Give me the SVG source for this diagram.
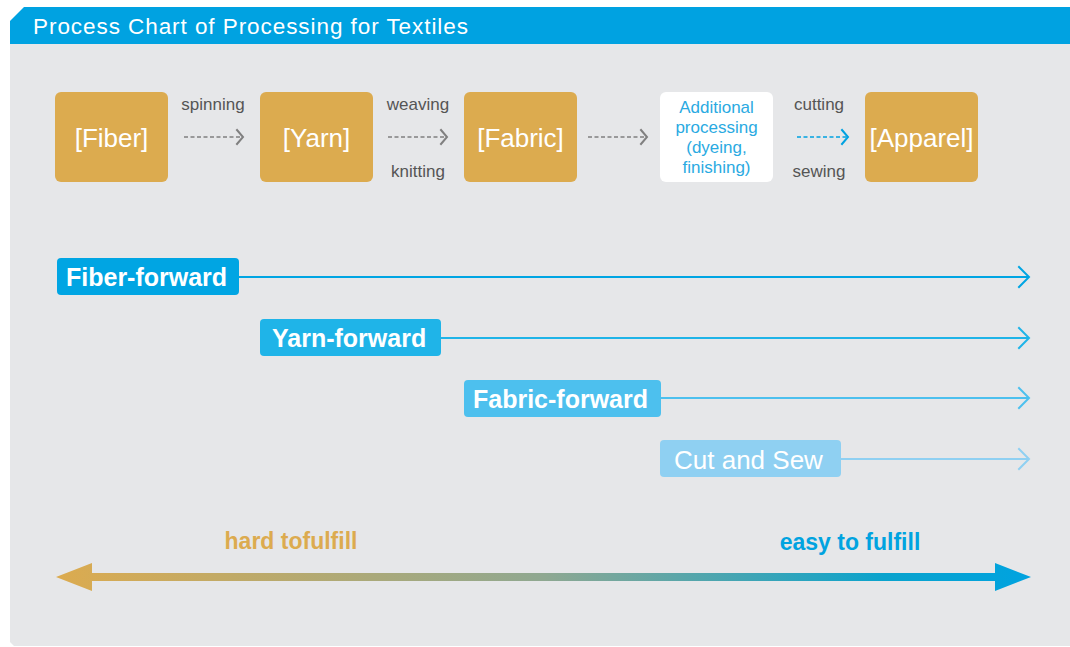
<svg xmlns="http://www.w3.org/2000/svg" width="1070" height="647" viewBox="0 0 1070 647">
  <defs>
    <style>
      .node rect.stage { fill: #dcab4f; }
      .stage-text { font-family: "Liberation Sans", Arial, sans-serif; font-size: 26px; fill: #ffffff; text-anchor: middle; }
      .lbl { font-family: "Liberation Sans", Arial, sans-serif; font-size: 17px; fill: #555555; text-anchor: middle; }
      .add-text { font-family: "Liberation Sans", Arial, sans-serif; font-size: 17px; fill: #2aaae2; text-anchor: middle; }
      .tag-text { font-family: "Liberation Sans", Arial, sans-serif; font-size: 25px; font-weight: bold; fill: #ffffff; }
      .dash { stroke: #808080; stroke-width: 1.6; stroke-dasharray: 4 2.5; fill: none; }
      .chev { fill: none; stroke-width: 2; stroke-linecap: square; }
      .scale-text { font-family: "Liberation Sans", Arial, sans-serif; font-size: 23px; font-weight: bold; text-anchor: middle; }
    </style>
    <linearGradient id="grad" x1="56" y1="0" x2="1031" y2="0" gradientUnits="userSpaceOnUse">
      <stop offset="0" stop-color="#dcab4f"/>
      <stop offset="0.5" stop-color="#8fa891"/>
      <stop offset="0.85" stop-color="#0aa3cd"/>
      <stop offset="1" stop-color="#00a3e0"/>
    </linearGradient>
  </defs>

  <rect width="1070" height="647" fill="#ffffff"/>
  <g id="frame">
    <path d="M10,44 H1070 V646 H14 L10,642 Z" fill="#e6e7e9"/>
    <path d="M24,7 H1070 V44 H10 V21 Z" fill="#00a2e1"/>
    <text x="33" y="34" font-family="Liberation Sans, Arial, sans-serif" font-size="22.5" fill="#ffffff" textLength="435" lengthAdjust="spacing">Process Chart of Processing for Textiles</text>
  </g>

  <g id="node-fiber" class="node">
    <rect class="stage" x="55" y="92" width="113" height="90" rx="6"/>
    <text class="stage-text" x="111.5" y="147">[Fiber]</text>
  </g>
  <g id="node-yarn" class="node">
    <rect class="stage" x="260" y="92" width="113" height="90" rx="6"/>
    <text class="stage-text" x="316.5" y="147">[Yarn]</text>
  </g>
  <g id="node-fabric" class="node">
    <rect class="stage" x="464" y="92" width="113" height="90" rx="6"/>
    <text class="stage-text" x="520.5" y="147">[Fabric]</text>
  </g>
  <g id="node-additional" class="node">
    <rect x="660" y="92" width="113" height="90" rx="6" fill="#ffffff"/>
    <text class="add-text" x="716.5" y="113">Additional</text>
    <text class="add-text" x="716.5" y="133">processing</text>
    <text class="add-text" x="716.5" y="153">(dyeing,</text>
    <text class="add-text" x="716.5" y="173">finishing)</text>
  </g>
  <g id="node-apparel" class="node">
    <rect class="stage" x="865" y="92" width="113" height="90" rx="6"/>
    <text class="stage-text" x="921.5" y="147">[Apparel]</text>
  </g>

  <g id="connectors">
    <line class="dash" x1="184" y1="137" x2="243" y2="137"/>
    <polyline class="chev" stroke="#808080" points="237,130 243,137 237,144"/>
    <line class="dash" x1="388" y1="137" x2="447" y2="137"/>
    <polyline class="chev" stroke="#808080" points="441,130 447,137 441,144"/>
    <line class="dash" x1="588" y1="137" x2="647" y2="137"/>
    <polyline class="chev" stroke="#808080" points="641,130 647,137 641,144"/>
    <line class="dash" x1="797" y1="137" x2="848" y2="137" style="stroke:#00a2e1"/>
    <polyline class="chev" stroke="#00a2e1" points="842,130 848,137 842,144"/>
    <text class="lbl" x="213" y="110">spinning</text>
    <text class="lbl" x="418" y="110">weaving</text>
    <text class="lbl" x="418" y="177">knitting</text>
    <text class="lbl" x="819" y="110">cutting</text>
    <text class="lbl" x="819" y="177">sewing</text>

    <line x1="238" y1="277" x2="1029" y2="277" stroke="#00a5e3" stroke-width="2"/>
    <polyline class="chev" stroke="#00a5e3" points="1019,267 1029,277 1019,287"/>
    <line x1="440" y1="338" x2="1029" y2="338" stroke="#1fb4e8" stroke-width="2"/>
    <polyline class="chev" stroke="#1fb4e8" points="1019,328 1029,338 1019,348"/>
    <line x1="660" y1="398" x2="1029" y2="398" stroke="#4dc0ee" stroke-width="2"/>
    <polyline class="chev" stroke="#4dc0ee" points="1019,388 1029,398 1019,408"/>
    <line x1="840" y1="459" x2="1029" y2="459" stroke="#8fd0f2" stroke-width="2"/>
    <polyline class="chev" stroke="#8fd0f2" points="1019,449 1029,459 1019,469"/>
  </g>

  <g id="tag-fiber-forward">
    <rect x="57" y="258" width="182" height="37" rx="4" fill="#00a5e3"/>
    <text class="tag-text" x="66" y="286">Fiber-forward</text>
  </g>
  <g id="tag-yarn-forward">
    <rect x="260" y="319" width="181" height="37" rx="4" fill="#1fb4e8"/>
    <text class="tag-text" x="272" y="347">Yarn-forward</text>
  </g>
  <g id="tag-fabric-forward">
    <rect x="464" y="380" width="197" height="37" rx="4" fill="#4dc0ee"/>
    <text class="tag-text" x="473" y="408">Fabric-forward</text>
  </g>
  <g id="tag-cut-and-sew">
    <rect x="660" y="440" width="181" height="37" rx="4" fill="#8fd0f2"/>
    <text class="tag-text" x="674" y="469" style="font-weight:normal;font-size:26px">Cut and Sew</text>
  </g>

  <g id="scale">
    <path d="M56,577 L92,563 V573 H995 V563 L1031,577 L995,591 V581 H92 V591 Z" fill="url(#grad)"/>
    <text class="scale-text" x="291" y="549" fill="#dcab4f">hard tofulfill</text>
    <text class="scale-text" x="850" y="550" fill="#00a3e0">easy to fulfill</text>
  </g>
</svg>
